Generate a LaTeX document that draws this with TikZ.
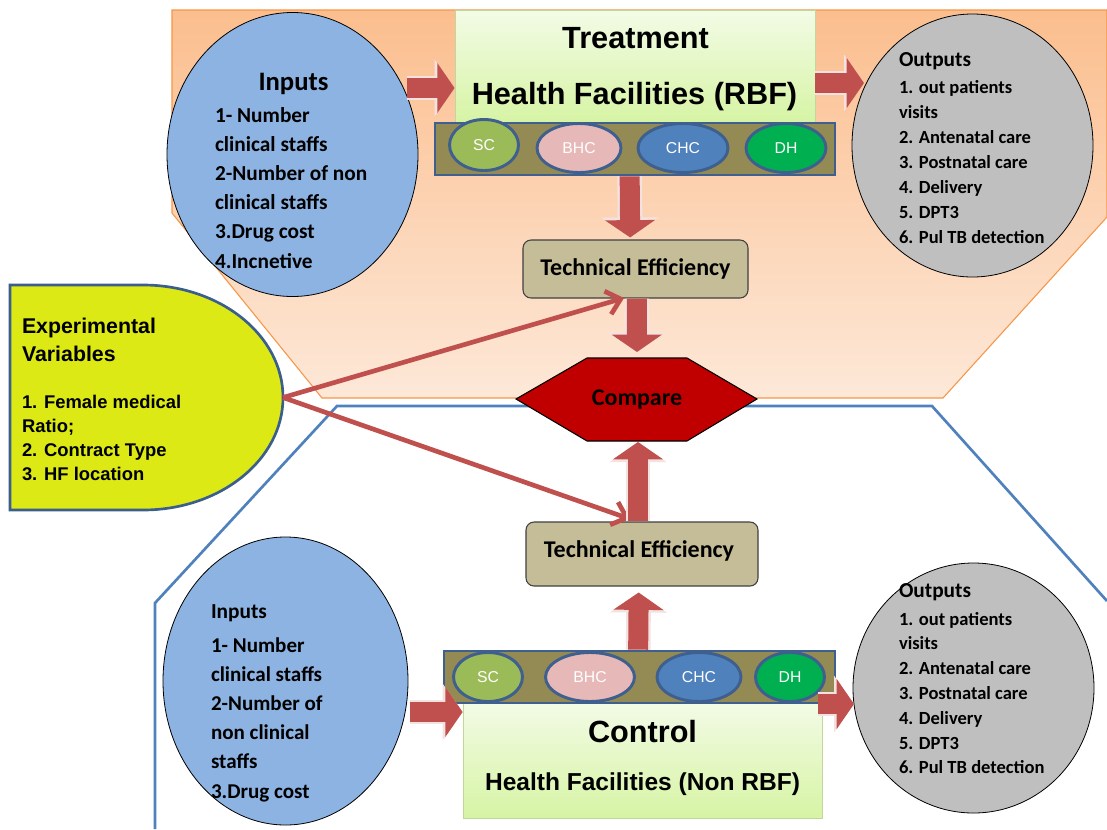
\documentclass[tikz,border=0pt]{standalone}
\usepackage{fontspec}
\newfontfamily\carl{Carlito}
\newfontfamily\ari{Liberation Sans}
\usetikzlibrary{arrows.meta,shapes.geometric}
\definecolor{orT}{HTML}{FBBE8E}
\definecolor{orB}{HTML}{FDE8D8}
\definecolor{orE}{HTML}{F79646}
\definecolor{bl}{HTML}{4F81BD}
\definecolor{inb}{HTML}{8DB3E2}
\definecolor{gy}{HTML}{BFBFBF}
\definecolor{evc}{HTML}{DCE914}
\definecolor{evb}{HTML}{3B5E8C}
\definecolor{tec}{HTML}{C4BD97}
\definecolor{cmpc}{HTML}{C00000}
\definecolor{barc}{HTML}{948A54}
\definecolor{barb}{HTML}{3F5F8F}
\definecolor{scc}{HTML}{9BBB59}
\definecolor{bhc}{HTML}{E6B9B8}
\definecolor{chc}{HTML}{4F81BD}
\definecolor{dhc}{HTML}{00B050}
\definecolor{arr}{HTML}{C0504D}
\definecolor{rim}{HTML}{F4E2E1}
\definecolor{gT}{HTML}{F3FBE6}
\definecolor{gB}{HTML}{D6F4A4}
\definecolor{gE}{HTML}{C3D69B}
\tikzset{
  t/.style={inner sep=0pt, outer sep=0pt},
  bigell/.style={ellipse, draw=black, line width=0.6pt, inner sep=0pt},
  bell/.style={ellipse, draw=barb, line width=2.2pt, inner sep=0pt, text=white, font=\ari\fontsize{11.8}{14}\selectfont},
  barbox/.style={rectangle, draw=barb, line width=2pt, fill=barc, inner sep=0pt},
  hfbox/.style={rectangle, draw=gE, line width=0.6pt, top color=gT, bottom color=gB, inner sep=0pt},
  tebox/.style={rectangle, rounded corners=6pt, draw=black!75, line width=0.8pt, fill=tec, inner sep=0pt},
  blk/.style={draw=arr, line width=15pt, -{Triangle[length=13pt,width=37pt]},
     preaction={draw=rim, line width=18.5pt, -{Triangle[length=15pt,width=42pt]}}},
  rl/.style={draw=arr, line width=3.5pt, -{Straight Barb[length=10pt,width=18pt]}},
  inTxt/.style={t, anchor=base west, font=\carl\bfseries\fontsize{16}{19}\selectfont},
  outTxt/.style={t, anchor=base west, font=\carl\bfseries\fontsize{13.9}{16}\selectfont},
  evTxt/.style={t, anchor=base west, font=\ari\bfseries\fontsize{13.8}{16}\selectfont},
}
\begin{document}
\begin{tikzpicture}[x=0.75pt,y=-0.75pt]
\useasboundingbox (0,0) rectangle (1107,829);
\fill[white] (0,0) rectangle (1107,829);

% background regions
\path[draw=orE, line width=0.8pt, top color=orT, bottom color=orB]
  (172,10) -- (1107,10) -- (1107,217) -- (943,398) -- (322,398) -- (172,213) -- cycle;
\draw[bl, line width=2pt] (155,829) -- (155,603) -- (337,406) -- (932,406) -- (1107,601);

% health facility boxes
\node[hfbox, minimum width=270pt, minimum height=84.75pt] (trt) at (635,66.5) {};
\node[hfbox, minimum width=269.25pt, minimum height=86.25pt] (ctl) at (642.5,760.5) {};

% inputs / outputs ellipses
\node[bigell, fill=inb, minimum width=188.25pt, minimum height=213pt] (in1) at (292.5,154.5) {};
\node[bigell, fill=gy, minimum width=180.75pt, minimum height=197.25pt] (out1) at (972.5,145.5) {};
\node[bigell, fill=inb, minimum width=183.75pt, minimum height=216pt] (in2) at (285.5,681) {};
\node[bigell, fill=gy, minimum width=180.75pt, minimum height=187.5pt] (out2) at (973.5,688) {};

% experimental variables shape
\path[draw=evb, line width=2pt, fill=evc] (10,285) -- (143,285)
  arc[start angle=-90, end angle=90, x radius=140, y radius=112.5] -- (10,510) -- cycle;
\coordinate (evE) at (283,397.5);

% facility bars
\node[barbox, minimum width=300pt, minimum height=39pt] (bar1) at (635,149) {};
\node[bell, fill=scc, minimum width=51.75pt, minimum height=38.25pt] (sc1) at (484,145) {SC};
\node[bell, fill=bhc, minimum width=63pt, minimum height=36.75pt] (bhc1) at (579,148) {BHC};
\node[bell, fill=chc, minimum width=67.5pt, minimum height=36.75pt] (chc1) at (683,148) {CHC};
\node[bell, fill=dhc, minimum width=60pt, minimum height=36.75pt] (dh1) at (786,148) {DH};

\node[barbox, minimum width=293.25pt, minimum height=39pt] (bar2) at (639.5,677) {};
\node[bell, fill=scc, minimum width=51.75pt, minimum height=36.75pt] (sc2) at (488,677) {SC};
\node[bell, fill=bhc, minimum width=66.75pt, minimum height=36.75pt] (bhc2) at (590,677) {BHC};
\node[bell, fill=chc, minimum width=63pt, minimum height=36.75pt] (chc2) at (699,677) {CHC};
\node[bell, fill=dhc, minimum width=51.75pt, minimum height=36.75pt] (dh2) at (790,677) {DH};

% technical efficiency boxes
\node[tebox, minimum width=168.75pt, minimum height=43.5pt] (te1) at (635.5,269) {};
\node[tebox, minimum width=174pt, minimum height=48pt] (te2) at (642,554) {};

% compare hexagon
\path[draw=black, line width=0.8pt, fill=cmpc]
  (516,399) -- (587,358) -- (687,358) -- (757,399) -- (687,441) -- (587,441) -- cycle;
\coordinate (cmpT) at (637,352);
\coordinate (cmpB) at (638,442);

% red lines from experimental variables
\draw[rl] (evE) -- (624,298);
\draw[rl] (evE) -- (630,519);

% block arrows
\coordinate (a1) at (407,88);
\draw[blk] (a1) -- (trt.west |- a1);
\coordinate (b1) at (815,83);
\coordinate (b2) at (864,83);
\draw[blk] (b1) -- (b2);
\draw[blk] ([xshift=-4pt]bar1.south) -- ([xshift=-4pt, yshift=1.5pt]te1.north);
\draw[blk] ([xshift=1pt]te1.south) -- (cmpT);
\draw[blk] ([xshift=-3pt]te2.north) -- (cmpB);
\draw[blk] ([xshift=-1pt]bar2.north) -- ([xshift=-2.5pt, yshift=-4.5pt]te2.south);
\coordinate (g1) at (410,712);
\draw[blk] (g1) -- (ctl.west |- g1);
\coordinate (h1) at (818,704);
\coordinate (h2) at (854,704);
\draw[blk] (h1) -- (h2);

% texts: treatment / control
\node[t, anchor=base, font=\ari\bfseries\fontsize{23}{27}\selectfont] (trtA) at (635.5,48) {Treatment};
\node[t, anchor=base, font=\ari\bfseries\fontsize{23}{27}\selectfont] (trtB) at (634.5,104) {Health Facilities (RBF)};
\node[t, anchor=base, font=\ari\bfseries\fontsize{23}{27}\selectfont] (ctlA) at (642.5,742) {Control};
\node[t, anchor=base, font=\ari\bfseries\fontsize{18.4}{22}\selectfont] (ctlB) at (642.5,790) {Health Facilities (Non RBF)};

% technical efficiency and compare text
\node[t, anchor=base, font=\carl\bfseries\fontsize{18}{22}\selectfont] (te1t) at (635.5,275) {Technical Efficiency};
\node[t, anchor=base, font=\carl\bfseries\fontsize{18}{22}\selectfont] (te2t) at (639,557) {Technical Efficiency};
\node[t, anchor=base, font=\carl\bfseries\fontsize{18}{22}\selectfont] (cmpt) at (637,405) {Compare};

% top inputs
\node[t, anchor=base, font=\carl\bfseries\fontsize{20}{24}\selectfont] (in1t) at (293.5,90) {Inputs};
\foreach \s [count=\i] in {{1- Number},{clinical staffs},{2-Number of non},{clinical staffs},{3.Drug cost},{4.Incnetive}}
  \node[inTxt] (in1l\i) at (215,{122+29.2*(\i-1)}) {\s};

% lower inputs
\node[inTxt] (in2t) at (211,618) {Inputs};
\foreach \s [count=\i] in {{1- Number},{clinical staffs},{2-Number of},{non clinical},{staffs},{3.Drug cost}}
  \node[inTxt, font=\carl\bfseries\fontsize{15.8}{19}\selectfont] (in2l\i) at (211,{652+29.2*(\i-1)}) {\s};

% outputs
\node[inTxt] (out1t) at (899,66) {Outputs};
\foreach \s [count=\i] in {{1. out patients},{visits},{2. Antenatal care},{3. Postnatal care},{4. Delivery},{5. DPT3},{6. Pul TB detection}}
  \node[outTxt] (out1l\i) at (899,{93+25*(\i-1)}) {\s};
\node[inTxt] (out2t) at (899,597) {Outputs};
\foreach \s [count=\i] in {{1. out patients},{visits},{2. Antenatal care},{3. Postnatal care},{4. Delivery},{5. DPT3},{6. Pul TB detection}}
  \node[outTxt] (out2l\i) at (899,{625+24.8*(\i-1)}) {\s};

% experimental variables text
\node[evTxt, font=\ari\bfseries\fontsize{16}{19}\selectfont] (evA) at (22,333) {Experimental};
\node[evTxt, font=\ari\bfseries\fontsize{16}{19}\selectfont] (evB) at (22,361) {Variables};
\foreach \s [count=\i] in {{1. Female medical},{Ratio;},{2. Contract Type},{3. HF location}}
  \node[evTxt] (evl\i) at (22,{408+24*(\i-1)}) {\s};
\end{tikzpicture}
\end{document}
